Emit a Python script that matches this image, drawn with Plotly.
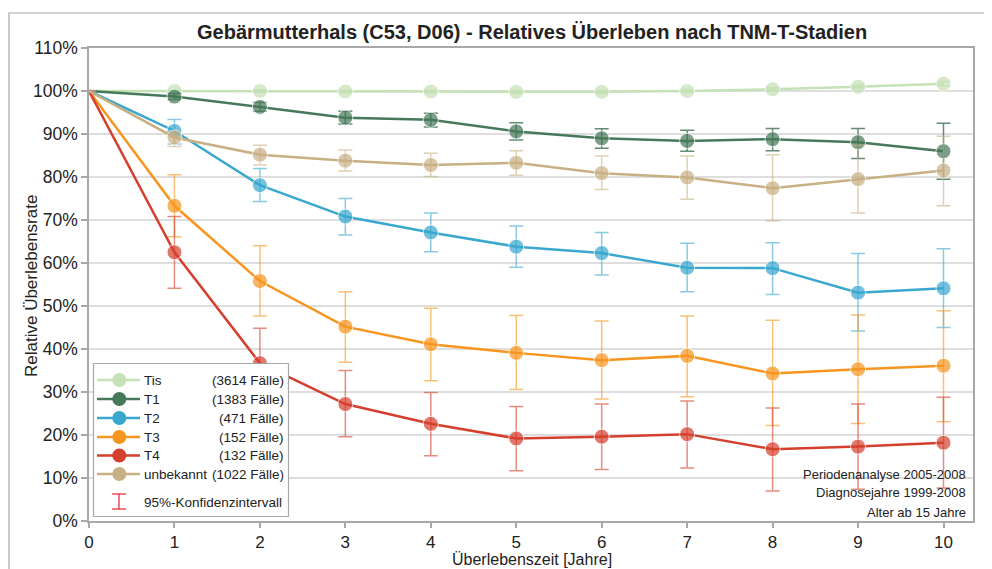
import plotly.graph_objects as go

years = list(range(0, 11))

tis = [100, 100.0, 100.0, 99.9, 99.9, 99.8, 99.8, 100.0, 100.4, 101.0, 101.7]
tis_hi = [100, 100.3, 100.3, 100.2, 100.2, 100.1, 100.1, 100.3, 100.8, 101.4, 102.2]
tis_lo = [100, 99.7, 99.7, 99.6, 99.6, 99.5, 99.5, 99.7, 100.0, 100.6, 101.2]

t1 = [100, 98.7, 96.3, 93.8, 93.3, 90.6, 89.0, 88.4, 88.8, 88.1, 86.0]
t1_hi = [100, 99.4, 97.3, 95.3, 94.8, 92.6, 91.2, 90.9, 91.3, 91.3, 92.5]
t1_lo = [100, 98.0, 95.3, 92.3, 91.6, 88.6, 86.7, 86.0, 86.1, 84.3, 79.5]

t2 = [100, 90.7, 78.1, 70.8, 67.1, 63.8, 62.3, 58.9, 58.8, 53.1, 54.1]
t2_hi = [100, 93.4, 82.0, 75.0, 71.6, 68.6, 67.1, 64.6, 64.7, 62.2, 63.3]
t2_lo = [100, 87.7, 74.3, 66.5, 62.6, 59.0, 57.2, 53.3, 52.7, 44.2, 45.0]

t3 = [100, 73.3, 55.8, 45.2, 41.1, 39.1, 37.4, 38.4, 34.3, 35.3, 36.1]
t3_hi = [100, 80.5, 64.0, 53.3, 49.5, 47.8, 46.5, 47.7, 46.7, 47.9, 48.9]
t3_lo = [100, 66.1, 47.7, 36.9, 32.6, 30.6, 28.4, 28.9, 22.2, 22.7, 23.1]

t4 = [100, 62.5, 36.7, 27.2, 22.6, 19.2, 19.6, 20.2, 16.7, 17.3, 18.2]
t4_hi = [100, 70.8, 44.8, 35.0, 29.9, 26.6, 27.2, 27.9, 26.3, 27.2, 28.8]
t4_lo = [100, 54.1, 28.6, 19.6, 15.2, 11.7, 12.0, 12.3, 7.0, 7.4, 7.7]

unb = [100, 89.2, 85.2, 83.8, 82.8, 83.3, 80.9, 79.9, 77.4, 79.5, 81.5]
unb_hi = [100, 90.6, 87.4, 86.3, 85.5, 86.1, 84.9, 84.9, 85.2, 87.4, 89.5]
unb_lo = [100, 87.1, 82.8, 81.4, 80.1, 80.4, 77.1, 74.8, 69.8, 71.6, 73.3]

series_names = ["Tis", "T1", "T2", "T3", "T4", "unbekannt"]
case_labels = ["(3614 Fälle)", "(1383 Fälle)", "(471 Fälle)", "(152 Fälle)", "(132 Fälle)", "(1022 Fälle)"]
y_ticks = [0, 10, 20, 30, 40, 50, 60, 70, 80, 90, 100, 110]
y_tick_labels = [f"{v}%" for v in y_ticks]

colors = ["#c5e2b6", "#46785a", "#3aa7cf", "#f7951f", "#d53f2d", "#c8b084"]
err_colors = ["rgba(197,226,182,0.9)", "rgba(70,120,90,0.85)", "rgba(58,167,207,0.6)",
              "rgba(247,149,31,0.6)", "rgba(213,63,45,0.6)", "rgba(200,176,132,0.6)"]

data = [(tis, tis_hi, tis_lo), (t1, t1_hi, t1_lo), (t2, t2_hi, t2_lo),
        (t3, t3_hi, t3_lo), (t4, t4_hi, t4_lo), (unb, unb_hi, unb_lo)]

# page is rendered with an 8px body margin: work in window pixels and shift
OFF = 8
W, H = 992 - OFF, 569 - OFF
PLOT_L, PLOT_R, PLOT_T, PLOT_B = 89, 973, 48, 521  # window pixel coordinates of plot area
L, T = PLOT_L - OFF, PLOT_T - OFF
R, B = W - (PLOT_R - OFF), H - (PLOT_B - OFF)
PW, PH = PLOT_R - PLOT_L, PLOT_B - PLOT_T


def px(x):
    return (x - PLOT_L) / PW


def py(y):
    return (PLOT_B - y) / PH


fig = go.Figure()
for i, (vals, hi, lo) in enumerate(data):
    plus = [h - v for h, v in zip(hi, vals)]
    minus = [v - l for v, l in zip(vals, lo)]
    plus[0] = None
    minus[0] = None
    fig.add_trace(go.Scatter(
        x=years, y=vals, mode="lines+markers", name=series_names[i],
        line=dict(color=colors[i], width=2.5),
        marker=dict(color=colors[i], size=[0] + [15] * (len(years) - 1)),
        error_y=dict(type="data", symmetric=False, array=plus, arrayminus=minus,
                     color=err_colors[i], thickness=1.5, width=7),
        showlegend=False, hoverinfo="skip",
    ))

shapes = []
annotations = []
# outer frame
shapes.append(dict(type="rect", xref="paper", yref="paper", x0=px(9), x1=px(991.5), y0=py(590), y1=py(13),
                   line=dict(color="#a8a8a8", width=1.2), fillcolor="rgba(0,0,0,0)", layer="below"))

# custom legend
lx0, lx1, ly0, ly1 = 93.5, 288.5, 363.5, 516.5
shapes.append(dict(type="rect", xref="paper", yref="paper", x0=px(lx0), x1=px(lx1), y0=py(ly1), y1=py(ly0),
                   line=dict(color="#a8a8a8", width=1.2), fillcolor="white", layer="above"))
row_y = [380, 399, 418, 437, 455.5, 474]
for i, ry in enumerate(row_y):
    shapes.append(dict(type="line", xref="paper", yref="paper", x0=px(97), x1=px(140), y0=py(ry), y1=py(ry),
                       line=dict(color=colors[i], width=2.5), layer="above"))
    r = 7
    shapes.append(dict(type="circle", xref="paper", yref="paper", x0=px(119.3 - r), x1=px(119.3 + r),
                       y0=py(ry + r), y1=py(ry - r), line=dict(color=colors[i], width=0),
                       fillcolor=colors[i], layer="above"))
    annotations.append(dict(xref="paper", yref="paper", x=px(142), y=py(ry), text=series_names[i],
                            xanchor="left", yanchor="middle", showarrow=False,
                            font=dict(size=13.5, color="#222222")))
    annotations.append(dict(xref="paper", yref="paper", x=px(286), y=py(ry), text=case_labels[i],
                            xanchor="right", yanchor="middle", showarrow=False,
                            font=dict(size=13.5, color="#222222")))
# CI symbol
ci_col = "#e8323c"
shapes.append(dict(type="line", xref="paper", yref="paper", x0=px(119), x1=px(119), y0=py(494), y1=py(509),
                   line=dict(color=ci_col, width=1.3), layer="above"))
for yy in (494, 509):
    shapes.append(dict(type="line", xref="paper", yref="paper", x0=px(112), x1=px(126), y0=py(yy), y1=py(yy),
                       line=dict(color=ci_col, width=1.3), layer="above"))
annotations.append(dict(xref="paper", yref="paper", x=px(142), y=py(502), text="95%-Konfidenzintervall",
                        xanchor="left", yanchor="middle", showarrow=False,
                        font=dict(size=13.5, color="#222222")))

# info notes
for txt, yy in [("Periodenanalyse 2005-2008", 474), ("Diagnosejahre 1999-2008", 492.5), ("Alter ab 15 Jahre", 512)]:
    annotations.append(dict(xref="paper", yref="paper", x=px(968), y=py(yy), text=txt,
                            xanchor="right", yanchor="middle", showarrow=False,
                            font=dict(size=13, color="#222222")))

# axis titles
annotations.append(dict(xref="paper", yref="paper", x=px(31), y=py(286), text="Relative Überlebensrate",
                        textangle=-90, xanchor="center", yanchor="middle", showarrow=False,
                        font=dict(size=17, color="#222222")))
annotations.append(dict(xref="paper", yref="paper", x=px(532), y=py(569), text="Überlebenszeit [Jahre]",
                        xanchor="center", yanchor="bottom", showarrow=False, borderpad=0,
                        font=dict(size=16, color="#222222")))
# title
annotations.append(dict(xref="paper", yref="paper", x=px(532), y=py(32),
                        text="<b>Gebärmutterhals (C53, D06) - Relatives Überleben nach TNM-T-Stadien</b>",
                        xanchor="center", yanchor="middle", showarrow=False,
                        font=dict(size=20, color="#222222")))

fig.update_layout(
    width=W, height=H,
    margin=dict(l=L, r=R, t=T, b=B),
    paper_bgcolor="white", plot_bgcolor="white",
    font=dict(family="Liberation Sans, Arial, sans-serif", color="#222222"),
    shapes=shapes, annotations=annotations,
    showlegend=False,
    xaxis=dict(range=[0, PW / 85.45], tickvals=years, ticktext=[str(v) for v in years],
               showgrid=False, zeroline=False, showline=True, linecolor="#a8a8a8", linewidth=1.5,
               mirror=True, ticks="outside", ticklen=5, tickcolor="#a8a8a8", tickwidth=1.5,
               tickfont=dict(size=17, color="#222222")),
    yaxis=dict(range=[0, 110], tickvals=y_ticks, ticktext=y_tick_labels,
               showgrid=True, gridcolor="#dedede", gridwidth=1.5, zeroline=False,
               showline=True, linecolor="#a8a8a8", linewidth=1.5, mirror=True,
               ticks="outside", ticklen=6, tickcolor="#a8a8a8", tickwidth=1.5,
               tickfont=dict(size=17.5, color="#222222")),
)

fig.write_html("out.html")
